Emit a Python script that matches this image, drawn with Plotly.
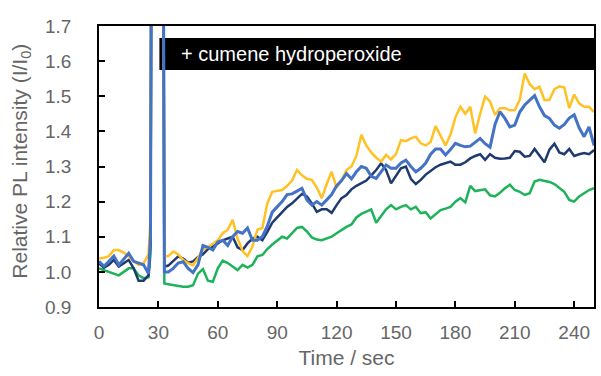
import plotly.graph_objects as go

time_s = [0, 2.5, 5, 7.5, 10, 12.5, 15, 17.5, 20, 22.5, 25,
          26, 27, 32, 33,
          35, 37.5, 40, 42.5, 45, 47.5, 50, 52.5, 55, 57.5, 60, 62.5, 65, 67.5, 70, 72.5, 75, 77.5,
          80, 82.5, 85, 87.5, 90, 92.5, 95, 97.5, 100, 102.5, 105, 107.5, 110, 112.5, 115, 117.5,
          120, 122.5, 125, 127.5, 130, 132.5, 135, 137.5, 140, 142.5, 145, 147.5, 150, 152.5, 155, 157.5,
          160, 162.5, 165, 167.5, 170, 172.5, 175, 177.5, 180, 182.5, 185, 187.5, 190, 192.5, 195, 197.5,
          200, 202.5, 205, 207.5, 210, 212.5, 215, 217.5, 220, 222.5, 225, 227.5, 230, 232.5, 235, 237.5,
          240, 242.5, 245, 247.5, 250]

yellow = [1.038, 1.04, 1.045, 1.062, 1.062, 1.055, 1.044, 1.03, 1.02, 1.024, 1.05,
          1.15, 3.0, 3.0, 1.044,
          1.045, 1.058, 1.05, 1.034, 1.025, 1.019, 1.04, 1.065, 1.07, 1.08, 1.09, 1.11, 1.12, 1.148, 1.095, 1.06, 1.045, 1.072,
          1.12, 1.125, 1.195, 1.228, 1.23, 1.233, 1.245, 1.26, 1.29, 1.275, 1.265, 1.262, 1.24, 1.21, 1.25, 1.285,
          1.24, 1.26, 1.29, 1.3, 1.33, 1.39, 1.36, 1.34, 1.325, 1.314, 1.333, 1.32, 1.335, 1.375, 1.372, 1.38,
          1.385, 1.366, 1.36, 1.37, 1.415, 1.385, 1.36, 1.39, 1.44, 1.47, 1.45, 1.47, 1.394, 1.45, 1.499, 1.485,
          1.447, 1.466, 1.466, 1.46, 1.461, 1.49, 1.565, 1.535, 1.52, 1.527, 1.489, 1.49, 1.52, 1.528, 1.525, 1.466,
          1.505, 1.48, 1.47, 1.47, 1.455]

blue = [1.03, 1.016, 1.03, 1.045, 1.02, 1.035, 1.053, 1.03, 1.025, 1.02, 0.995,
        1.1, 3.0, 3.0, 1.0,
        1.0, 1.01, 1.025, 1.029, 1.01, 0.998, 1.02, 1.075, 1.07, 1.062, 1.085, 1.09, 1.075, 1.1, 1.115, 1.11, 1.125, 1.09,
        1.09, 1.1, 1.13, 1.17, 1.185, 1.2, 1.22, 1.222, 1.23, 1.238, 1.205, 1.19, 1.2, 1.19, 1.205, 1.22,
        1.245, 1.26, 1.28, 1.265, 1.285, 1.3, 1.295, 1.272, 1.266, 1.285, 1.304, 1.295, 1.295, 1.31, 1.318, 1.3,
        1.285, 1.295, 1.31, 1.335, 1.35, 1.35, 1.333, 1.348, 1.366, 1.36, 1.356, 1.358, 1.37, 1.38, 1.365, 1.355,
        1.42, 1.456, 1.437, 1.413, 1.418, 1.455, 1.475, 1.49, 1.502, 1.47, 1.445, 1.437, 1.418, 1.409, 1.42, 1.438,
        1.447, 1.41, 1.385, 1.413, 1.36]

navy = [1.024, 1.012, 1.02, 1.034, 1.015, 1.025, 1.034, 1.01, 0.975, 0.975, 0.99,
        1.08, 3.0, 3.0, 1.015,
        1.018, 1.03, 1.044, 1.038, 1.026, 1.03, 1.042, 1.05, 1.065, 1.072, 1.08, 1.09, 1.095, 1.1, 1.07, 1.062, 1.081, 1.095,
        1.1, 1.09, 1.114, 1.14, 1.155, 1.17, 1.185, 1.195, 1.21, 1.222, 1.215, 1.195, 1.171, 1.178, 1.178, 1.168,
        1.19, 1.21, 1.219, 1.235, 1.245, 1.252, 1.26, 1.275, 1.29, 1.309, 1.29, 1.252, 1.272, 1.295, 1.3, 1.265,
        1.25, 1.262, 1.277, 1.288, 1.298, 1.305, 1.31, 1.314, 1.305, 1.305, 1.312, 1.323, 1.33, 1.335, 1.319, 1.335,
        1.325, 1.322, 1.323, 1.325, 1.344, 1.342, 1.328, 1.33, 1.35, 1.332, 1.312, 1.348, 1.365, 1.34, 1.335, 1.35,
        1.33, 1.335, 1.338, 1.335, 1.347]

green = [1.01, 1.005, 1.0, 0.995, 0.99, 1.0, 1.01, 1.01, 0.99, 0.982, 0.985,
         1.05, 3.0, 3.0, 0.967,
         0.965, 0.962, 0.96, 0.958, 0.958, 0.962, 0.995, 1.008, 0.975, 0.972, 1.01, 1.032, 1.025, 1.015, 1.005, 1.02, 1.012, 1.02,
         1.044, 1.048, 1.065, 1.078, 1.09, 1.1, 1.095, 1.11, 1.125, 1.128, 1.115, 1.098, 1.092, 1.09, 1.095, 1.1,
         1.11, 1.12, 1.128, 1.135, 1.155, 1.165, 1.172, 1.178, 1.14, 1.16, 1.178, 1.19, 1.178, 1.185, 1.19, 1.178,
         1.185, 1.167, 1.17, 1.152, 1.165, 1.176, 1.18, 1.185, 1.2, 1.21, 1.198, 1.245, 1.23, 1.232, 1.235, 1.218,
         1.215, 1.225, 1.238, 1.248, 1.233, 1.228, 1.219, 1.224, 1.257, 1.262, 1.26, 1.256, 1.25, 1.238, 1.228, 1.205,
         1.2, 1.215, 1.225, 1.233, 1.238]

x_ticks = [0, 30, 60, 90, 120, 150, 180, 210, 240]
y_ticks = [0.9, 1.0, 1.1, 1.2, 1.3, 1.4, 1.5, 1.6, 1.7]
annotation_text = "+ cumene hydroperoxide"
x_title = "Time / sec"
y_title = "Relative PL intensity (I/I<sub>0</sub>)"

series = [
    ("green", green, "#1DB35A", 2.5),
    ("navy", navy, "#1F3A6E", 2.5),
    ("yellow", yellow, "#FFC125", 2.5),
    ("blue", blue, "#4472C4", 3),
]

fig = go.Figure()
for name, vals, col, w in series:
    fig.add_trace(go.Scatter(x=time_s, y=vals, mode="lines", name=name,
                             line=dict(color=col, width=w), showlegend=False))

fig.add_shape(type="rect", xref="x", yref="y", x0=30.5, x1=250, y0=1.575, y1=1.666,
              fillcolor="black", line=dict(width=0), layer="below")
fig.add_annotation(x=40.5, y=1.6205, xref="x", yref="y", text=annotation_text,
                   showarrow=False, xanchor="left", yanchor="middle",
                   font=dict(color="white", size=20, family="Liberation Sans, Arial"))

font_col = "#666666"
# y-axis title placed as a rotated annotation to sit at the far left like the reference
fig.add_annotation(xref="paper", yref="paper", x=-0.158, y=0.52, text=y_title,
                   textangle=-90, showarrow=False, xanchor="center", yanchor="middle",
                   font=dict(size=21, color=font_col, family="Liberation Sans, Arial"))

fig.update_layout(
    width=601, height=376,
    margin=dict(l=99, r=5, t=26, b=69),
    paper_bgcolor="white", plot_bgcolor="white",
    font=dict(family="Liberation Sans, Arial", color=font_col, size=19),
)
fig.update_xaxes(range=[0, 250], tickvals=x_ticks, ticks="inside", ticklen=6, tickwidth=1.5,
                 tickcolor="black", showline=True, linecolor="black", linewidth=1.5, mirror=True,
                 showgrid=False, zeroline=False, tickfont=dict(size=19, color=font_col),
                 title=dict(text=x_title, font=dict(size=21, color=font_col), standoff=9),
                 ticklabelstandoff=7)
fig.update_yaxes(range=[0.9, 1.7], tickvals=y_ticks, tickformat=".1f", ticks="inside", ticklen=6,
                 tickwidth=1.5, tickcolor="black", showline=True, linecolor="black", linewidth=1.5,
                 mirror=True, showgrid=False, zeroline=False, tickfont=dict(size=19, color=font_col),
                 ticklabelstandoff=22)

fig.write_html("out.html")
